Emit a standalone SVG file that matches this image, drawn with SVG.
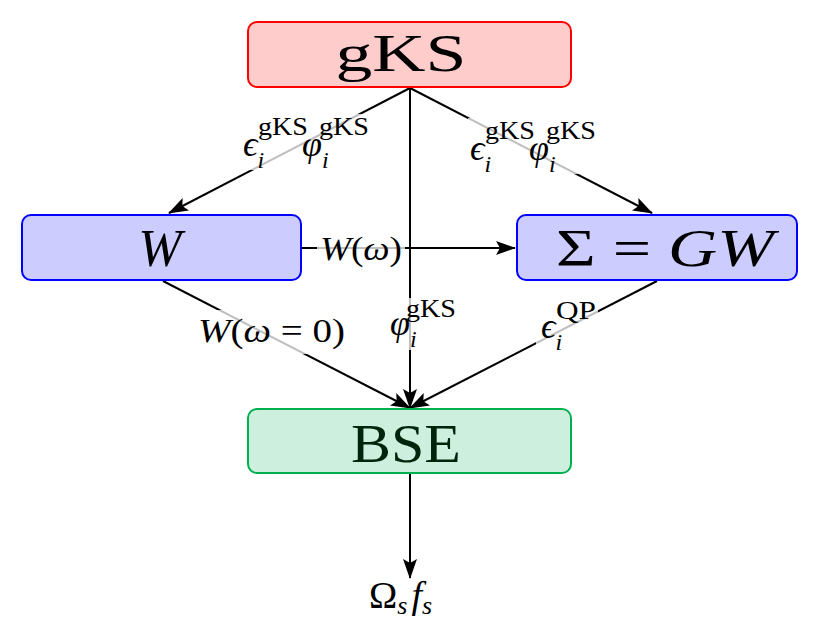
<svg xmlns="http://www.w3.org/2000/svg" width="830" height="626" viewBox="0 0 830 626">
<defs>
<marker id="ah" markerWidth="20" markerHeight="14" refX="19" refY="7" orient="auto" markerUnits="userSpaceOnUse">
<path d="M0,0 L20,7 L0,14 L4,7 Z" fill="#000"/>
</marker>
<style>
.box{stroke-width:2}
.t{font-family:"Liberation Serif","DejaVu Serif",serif;fill:#000}
.m{font-family:"Liberation Serif","DejaVu Serif",serif;font-style:italic;fill:#000}
.r{font-family:"Liberation Serif","DejaVu Serif",serif;font-style:normal;fill:#000}
.ln{stroke:#000;stroke-width:2;fill:none}
.lb{fill:#fff;fill-opacity:0.75}
</style>
</defs>
<rect width="830" height="626" fill="#fff"/>
<g id="connectors">
<line class="ln" x1="410" y1="88" x2="169" y2="213" marker-end="url(#ah)"/>
<line class="ln" x1="410" y1="88" x2="652" y2="213" marker-end="url(#ah)"/>
<line class="ln" x1="410" y1="88" x2="410" y2="408" marker-end="url(#ah)"/>
<line class="ln" x1="301" y1="248" x2="515" y2="248" marker-end="url(#ah)"/>
<line class="ln" x1="163" y1="281" x2="410" y2="408" marker-end="url(#ah)"/>
<line class="ln" x1="657" y1="281" x2="410" y2="408" marker-end="url(#ah)"/>
<line class="ln" x1="410" y1="474" x2="410" y2="578" marker-end="url(#ah)"/>
<!-- label backgrounds -->
<rect class="lb" x="242" y="114" width="128" height="56"/>
<rect class="lb" x="468" y="118" width="130" height="56"/>
<rect class="lb" x="317" y="230" width="88" height="38"/>
<rect class="lb" x="196" y="310" width="152" height="44"/>
<rect class="lb" x="389" y="298" width="68" height="52"/>
<rect class="lb" x="536" y="300" width="62" height="54"/>
<!-- labels -->
<text class="m" x="243" y="156" font-size="36">ϵ<tspan class="m" font-size="24" dy="12">i</tspan></text>
<text class="r" x="258" y="135" font-size="25" textLength="50" lengthAdjust="spacingAndGlyphs">gKS</text>
<text class="m" x="302" y="156" font-size="36">φ<tspan class="m" font-size="24" dy="12">i</tspan></text>
<text class="r" x="319" y="135" font-size="25" textLength="50" lengthAdjust="spacingAndGlyphs">gKS</text>
<text class="m" x="470" y="160" font-size="36">ϵ<tspan class="m" font-size="24" dy="12">i</tspan></text>
<text class="r" x="485" y="139" font-size="25" textLength="50" lengthAdjust="spacingAndGlyphs">gKS</text>
<text class="m" x="529" y="160" font-size="36">φ<tspan class="m" font-size="24" dy="12">i</tspan></text>
<text class="r" x="546" y="139" font-size="25" textLength="50" lengthAdjust="spacingAndGlyphs">gKS</text>
<text class="t" x="320" y="260" font-size="34" textLength="82" lengthAdjust="spacingAndGlyphs"><tspan class="m">W</tspan>(<tspan class="m">ω</tspan>)</text>
<text class="t" x="198" y="342" font-size="34" textLength="147" lengthAdjust="spacingAndGlyphs"><tspan class="m">W</tspan>(<tspan class="m">ω</tspan> = 0)</text>
<text class="m" x="390" y="335" font-size="36">φ<tspan class="m" font-size="24" dy="12">i</tspan></text>
<text class="r" x="406" y="317" font-size="25" textLength="50" lengthAdjust="spacingAndGlyphs">gKS</text>
<text class="m" x="541" y="338" font-size="36">ϵ<tspan class="m" font-size="24" dy="12">i</tspan></text>
<text class="r" x="556" y="319" font-size="25" textLength="40" lengthAdjust="spacingAndGlyphs">QP</text>
</g>
<g id="gKS">
<rect class="box" x="248" y="22" width="323" height="65" rx="9" fill="#ffcccc" stroke="#ff0000"/>
<text class="t" x="401" y="71" font-size="52" text-anchor="middle" textLength="131" lengthAdjust="spacingAndGlyphs">gKS</text>
</g>
<g id="W">
<rect class="box" x="22" y="215" width="279" height="65" rx="9" fill="#ccccff" stroke="#0000ff"/>
<text class="m" x="160" y="266" font-size="52" text-anchor="middle">W</text>
</g>
<g id="SigmaGW">
<rect class="box" x="517" y="215" width="280" height="65" rx="9" fill="#ccccff" stroke="#0000ff"/>
<text class="t" x="665" y="266" font-size="52" text-anchor="middle" textLength="218" lengthAdjust="spacingAndGlyphs">Σ = <tspan class="m">GW</tspan></text>
</g>
<g id="BSE">
<rect class="box" x="248" y="409" width="323" height="64" rx="9" fill="#ccf0dd" stroke="#00b050"/>
<text class="t" x="406" y="462" font-size="54" text-anchor="middle" textLength="110" lengthAdjust="spacingAndGlyphs" style="fill:#00240c">BSE</text>
</g>
<g id="output">
<text class="t" x="369" y="608" font-size="38">Ω<tspan class="m" font-size="26" dy="6">s</tspan><tspan class="m" dy="-6" dx="4">f</tspan><tspan class="m" font-size="26" dy="6">s</tspan></text>
</g>
</svg>
